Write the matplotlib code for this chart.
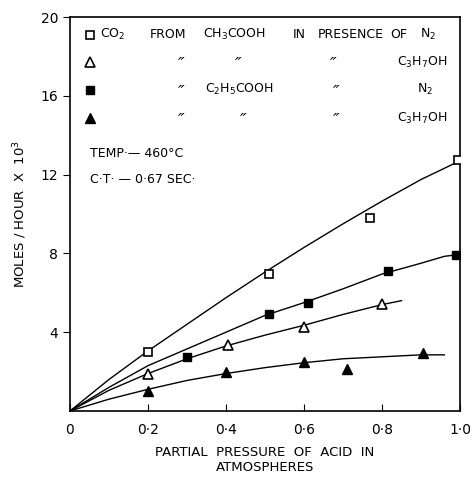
import matplotlib
matplotlib.use("Agg")
import matplotlib.pyplot as plt

# measured points
x_sq_open = [0.2, 0.51, 0.77, 0.995]
y_sq_open = [3.0, 6.95, 9.8, 12.75]
x_sq_fill = [0.30, 0.51, 0.61, 0.815, 0.99]
y_sq_fill = [2.75, 4.9, 5.5, 7.1, 7.9]
x_tri_open = [0.2, 0.405, 0.60, 0.80]
y_tri_open = [1.9, 3.35, 4.28, 5.45]
x_tri_fill = [0.2, 0.40, 0.60, 0.71, 0.905]
y_tri_fill = [1.03, 2.0, 2.5, 2.15, 2.93]

# hand-drawn curves
cx_sq_open = [0, 0.1, 0.2, 0.3, 0.4, 0.5, 0.6, 0.7, 0.8, 0.9, 1.0]
cy_sq_open = [0, 1.6, 3.05, 4.4, 5.75, 7.05, 8.3, 9.5, 10.65, 11.75, 12.7]
cx_sq_fill = [0, 0.1, 0.2, 0.3, 0.4, 0.5, 0.6, 0.7, 0.8, 0.9, 0.96, 1.0]
cy_sq_fill = [0, 1.2, 2.3, 3.15, 4.0, 4.85, 5.5, 6.2, 6.95, 7.5, 7.85, 7.95]
cx_tri_open = [0, 0.1, 0.2, 0.3, 0.4, 0.5, 0.6, 0.7, 0.8, 0.85]
cy_tri_open = [0, 1.05, 1.9, 2.65, 3.3, 3.85, 4.35, 4.9, 5.4, 5.6]
cx_tri_fill = [0, 0.1, 0.2, 0.3, 0.4, 0.5, 0.6, 0.7, 0.8, 0.9, 0.96]
cy_tri_fill = [0, 0.6, 1.1, 1.55, 1.9, 2.2, 2.45, 2.65, 2.75, 2.85, 2.85]

x_ticks = [0, 0.2, 0.4, 0.6, 0.8, 1.0]
x_labels = ["0", "0·2", "0·4", "0·6", "0·8", "1·0"]
y_ticks = [4, 8, 12, 16, 20]

plt.rcParams["font.family"] = ["DejaVu Sans"]
plt.rcParams["mathtext.fontset"] = "dejavusans"

fig = plt.figure(figsize=(4.71, 4.79), dpi=100, facecolor="white")
ax = fig.add_axes([0.1486, 0.142, 0.828, 0.8225])

for cx, cy in [(cx_sq_open, cy_sq_open), (cx_sq_fill, cy_sq_fill),
               (cx_tri_open, cy_tri_open), (cx_tri_fill, cy_tri_fill)]:
    ax.plot(cx, cy, color="black", lw=1.0, zorder=2)

ms = 6
ax.plot(x_sq_open, y_sq_open, "s", ms=ms, mfc="white", mec="black", mew=1.2, ls="none", zorder=3)
ax.plot(x_sq_fill, y_sq_fill, "s", ms=ms, mfc="black", mec="black", ls="none", zorder=3)
ax.plot(x_tri_open, y_tri_open, "^", ms=ms + 1, mfc="white", mec="black", mew=1.2, ls="none", zorder=3)
ax.plot(x_tri_fill, y_tri_fill, "^", ms=ms + 1, mfc="black", mec="black", ls="none", zorder=3)

ax.set_xlim(0, 1.0)
ax.set_ylim(0, 20)
ax.set_xticks(x_ticks)
ax.set_xticklabels(x_labels)
ax.set_yticks(y_ticks)
ax.tick_params(axis="x", direction="in", length=5, labelsize=10, pad=9)
ax.tick_params(axis="y", direction="out", length=5, labelsize=10)
for s in ax.spines.values():
    s.set_linewidth(1.2)

ax.set_xlabel("PARTIAL  PRESSURE  OF  ACID  IN\nATMOSPHERES", fontsize=9.5,
              labelpad=6, linespacing=1.25)
ax.set_ylabel(r"MOLES / HOUR  X  10$^3$", fontsize=9.5, labelpad=8)

# legend written as text, as in the original
fs = 9
mk = dict(ls="none", color="black", clip_on=False)
rows = [19.09, 17.7, 16.3, 14.87]
ax.plot([0.051], [rows[0]], "s", ms=6, mfc="white", mec="black", mew=1.2, **mk)
ax.plot([0.051], [rows[1]], "^", ms=7, mfc="white", mec="black", mew=1.2, **mk)
ax.plot([0.051], [rows[2]], "s", ms=6, mfc="black", mec="black", **mk)
ax.plot([0.051], [rows[3]], "^", ms=7, mfc="black", mec="black", **mk)

kw = dict(fontsize=fs, va="center", ha="left")
dk = dict(fontsize=13, va="center", ha="left", style="italic")
dy = -0.15  # ditto glyph sits high in its box
ax.text(0.077, rows[0], r"CO$_2$", **kw)
ax.text(0.205, rows[0], "FROM", **kw)
ax.text(0.341, rows[0], r"CH$_3$COOH", **kw)
ax.text(0.57, rows[0], "IN", **kw)
ax.text(0.635, rows[0], "PRESENCE", **kw)
ax.text(0.82, rows[0], "OF", **kw)
ax.text(0.897, rows[0], r"N$_2$", **kw)

ax.text(0.277, rows[1] + dy, "\u2033", **dk)
ax.text(0.423, rows[1] + dy, "\u2033", **dk)
ax.text(0.667, rows[1] + dy, "\u2033", **dk)
ax.text(0.967, rows[1], r"C$_3$H$_7$OH", fontsize=fs, va="center", ha="right")

ax.text(0.277, rows[2] + dy, "\u2033", **dk)
ax.text(0.346, rows[2], r"C$_2$H$_5$COOH", **kw)
ax.text(0.674, rows[2] + dy, "\u2033", **dk)
ax.text(0.89, rows[2], r"N$_2$", **kw)

ax.text(0.277, rows[3] + dy, "\u2033", **dk)
ax.text(0.436, rows[3] + dy, "\u2033", **dk)
ax.text(0.674, rows[3] + dy, "\u2033", **dk)
ax.text(0.967, rows[3], r"C$_3$H$_7$OH", fontsize=fs, va="center", ha="right")

ax.text(0.051, 13.05, "TEMP·\u2014 460°C", **kw)
ax.text(0.051, 11.73, "C·T· \u2014 0·67 SEC·", **kw)

fig.savefig("out.png", dpi=100, facecolor="white")
